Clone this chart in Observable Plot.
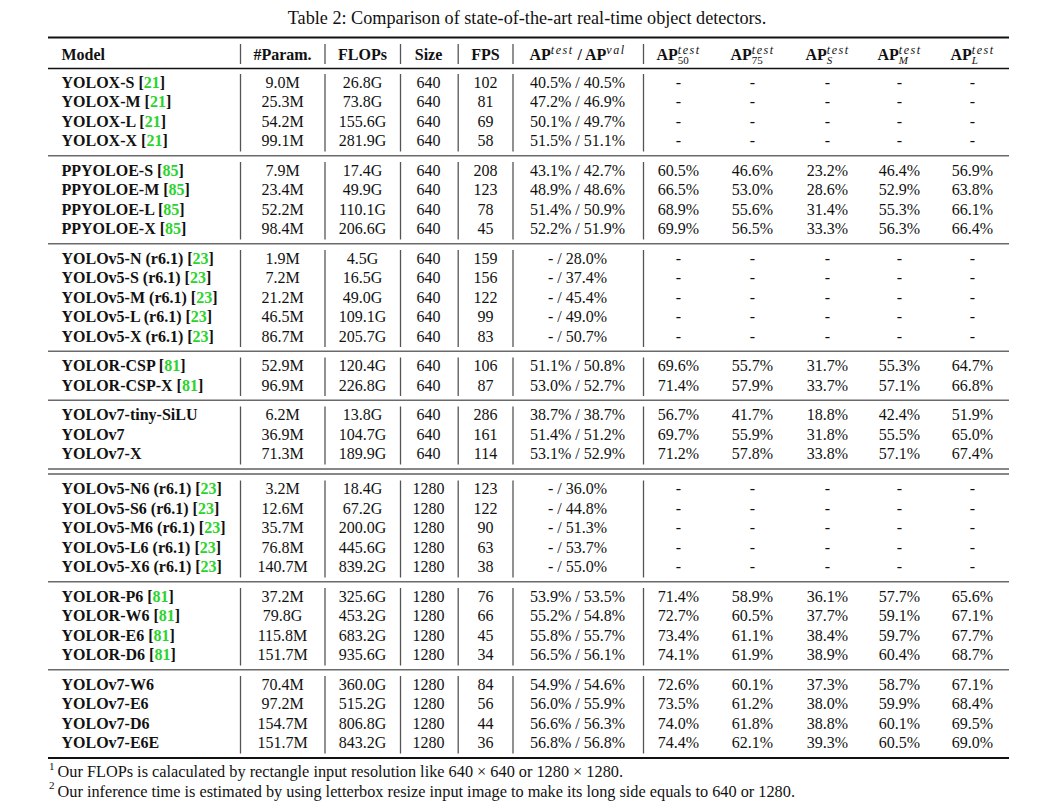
<!DOCTYPE html>
<html><head><meta charset="utf-8">
<script src="https://cdn.jsdelivr.net/npm/d3@7"></script>
<script src="https://cdn.jsdelivr.net/npm/@observablehq/plot@0.6"></script>
<style>
body{margin:0;background:#fff;font-family:"Liberation Serif","Times New Roman",serif;color:#111}
#title{height:30px;box-sizing:border-box;padding-top:7px;line-height:22px;font-size:18.2px;text-align:center;width:1054px;white-space:nowrap}
#chart svg{display:block}
#notes{font-size:16.3px;line-height:19.5px;padding-left:49px;white-space:nowrap}
#notes sup{font-size:11px;line-height:0;position:relative;top:-1px;margin-right:3px}
</style></head>
<body>
<div id="title">Table 2: Comparison of state-of-the-art real-time object detectors.</div>
<div id="chart"></div>
<div id="notes">
<div><sup>1</sup>Our FLOPs is calaculated by rectangle input resolution like 640 × 640 or 1280 × 1280.</div>
<div><sup>2</sup>Our inference time is estimated by using letterbox resize input image to make its long side equals to 640 or 1280.</div>
</div>
<script>
// ---------------- data ----------------
const headers = ["Model","#Param.","FLOPs","Size","FPS","AP^{test} / AP^{val}","AP^{test}_{50}","AP^{test}_{75}","AP^{test}_{S}","AP^{test}_{M}","AP^{test}_{L}"];
const models = ["YOLOX-S [21]","YOLOX-M [21]","YOLOX-L [21]","YOLOX-X [21]",
 "PPYOLOE-S [85]","PPYOLOE-M [85]","PPYOLOE-L [85]","PPYOLOE-X [85]",
 "YOLOv5-N (r6.1) [23]","YOLOv5-S (r6.1) [23]","YOLOv5-M (r6.1) [23]","YOLOv5-L (r6.1) [23]","YOLOv5-X (r6.1) [23]",
 "YOLOR-CSP [81]","YOLOR-CSP-X [81]",
 "YOLOv7-tiny-SiLU","YOLOv7","YOLOv7-X",
 "YOLOv5-N6 (r6.1) [23]","YOLOv5-S6 (r6.1) [23]","YOLOv5-M6 (r6.1) [23]","YOLOv5-L6 (r6.1) [23]","YOLOv5-X6 (r6.1) [23]",
 "YOLOR-P6 [81]","YOLOR-W6 [81]","YOLOR-E6 [81]","YOLOR-D6 [81]",
 "YOLOv7-W6","YOLOv7-E6","YOLOv7-D6","YOLOv7-E6E"];
const groups = [0,0,0,0,1,1,1,1,2,2,2,2,2,3,3,4,4,4,5,5,5,5,5,6,6,6,6,7,7,7,7];
const params = ["9.0M","25.3M","54.2M","99.1M","7.9M","23.4M","52.2M","98.4M","1.9M","7.2M","21.2M","46.5M","86.7M","52.9M","96.9M","6.2M","36.9M","71.3M","3.2M","12.6M","35.7M","76.8M","140.7M","37.2M","79.8G","115.8M","151.7M","70.4M","97.2M","154.7M","151.7M"];
const flops = ["26.8G","73.8G","155.6G","281.9G","17.4G","49.9G","110.1G","206.6G","4.5G","16.5G","49.0G","109.1G","205.7G","120.4G","226.8G","13.8G","104.7G","189.9G","18.4G","67.2G","200.0G","445.6G","839.2G","325.6G","453.2G","683.2G","935.6G","360.0G","515.2G","806.8G","843.2G"];
const sizes = [640,640,640,640,640,640,640,640,640,640,640,640,640,640,640,640,640,640,1280,1280,1280,1280,1280,1280,1280,1280,1280,1280,1280,1280,1280];
const fps = [102,81,69,58,208,123,78,45,159,156,122,99,83,106,87,286,161,114,123,122,90,63,38,76,66,45,34,84,56,44,36];
const apTestVal = ["40.5% / 40.5%","47.2% / 46.9%","50.1% / 49.7%","51.5% / 51.1%","43.1% / 42.7%","48.9% / 48.6%","51.4% / 50.9%","52.2% / 51.9%","- / 28.0%","- / 37.4%","- / 45.4%","- / 49.0%","- / 50.7%","51.1% / 50.8%","53.0% / 52.7%","38.7% / 38.7%","51.4% / 51.2%","53.1% / 52.9%","- / 36.0%","- / 44.8%","- / 51.3%","- / 53.7%","- / 55.0%","53.9% / 53.5%","55.2% / 54.8%","55.8% / 55.7%","56.5% / 56.1%","54.9% / 54.6%","56.0% / 55.9%","56.6% / 56.3%","56.8% / 56.8%"];
const ap50 = ["-","-","-","-","60.5%","66.5%","68.9%","69.9%","-","-","-","-","-","69.6%","71.4%","56.7%","69.7%","71.2%","-","-","-","-","-","71.4%","72.7%","73.4%","74.1%","72.6%","73.5%","74.0%","74.4%"];
const ap75 = ["-","-","-","-","46.6%","53.0%","55.6%","56.5%","-","-","-","-","-","55.7%","57.9%","41.7%","55.9%","57.8%","-","-","-","-","-","58.9%","60.5%","61.1%","61.9%","60.1%","61.2%","61.8%","62.1%"];
const apS = ["-","-","-","-","23.2%","28.6%","31.4%","33.3%","-","-","-","-","-","31.7%","33.7%","18.8%","31.8%","33.8%","-","-","-","-","-","36.1%","37.7%","38.4%","38.9%","37.3%","38.0%","38.8%","39.3%"];
const apM = ["-","-","-","-","46.4%","52.9%","55.3%","56.3%","-","-","-","-","-","55.3%","57.1%","42.4%","55.5%","57.1%","-","-","-","-","-","57.7%","59.1%","59.7%","60.4%","58.7%","59.9%","60.1%","60.5%"];
const apL = ["-","-","-","-","56.9%","63.8%","66.1%","66.4%","-","-","-","-","-","64.7%","66.8%","51.9%","65.0%","67.4%","-","-","-","-","-","65.6%","67.1%","67.7%","68.7%","67.1%","68.4%","69.5%","69.0%"];

// ---------------- layout ----------------
const FONT = "Liberation Serif";
const GREEN = "#2ad42a";
const columns = [params, flops, sizes, fps, apTestVal, ap50, ap75, apS, apM, apL];
const colCenters = [282, 362, 428, 485, 577, 678, 752, 827, 899, 972];
const modelX = 61;
const boundaries = [240, 324.5, 400, 457.7, 512.5, 643];
const tableX1 = 48, tableX2 = 1009;
const headerY = 54, topRuleY = 37, headRuleY = 68;
const firstRowY = 82, rowStep = 19.5, groupGap = 29.5, sectionGap = 35;

// row positions
const rowY = [];
models.forEach((m, i) => {
  if (i === 0) rowY.push(firstRowY);
  else if (groups[i] !== groups[i-1]) rowY.push(rowY[i-1] + (sizes[i] !== sizes[i-1] ? sectionGap : groupGap));
  else rowY.push(rowY[i-1] + rowStep);
});
const rows = models.map((m, i) => ({model: m, y: rowY[i]}));
const cells = [];
models.forEach((m, i) => columns.forEach((col, j) => cells.push({x: colCenters[j], y: rowY[i], text: String(col[i])})));
const modelHeader = [{x: modelX, y: headerY, text: headers[0]}];
const headerCells = headers.slice(1).map((h, j) => ({x: colCenters[j], y: headerY, text: h}));

// group extents
const gIds = [...new Set(groups)];
const gExt = gIds.map(g => {
  const ys = rowY.filter((y, i) => groups[i] === g);
  return {g, y1: ys[0], y2: ys[ys.length-1]};
});
const vlines = [];
boundaries.forEach(x => vlines.push({x, y1: 44, y2: 64}));
gExt.forEach(e => boundaries.forEach(x => vlines.push({x, y1: e.y1 - 8, y2: e.y2 + 11})));

// horizontal rules
const grayRules = [], thinBlackRules = [];
for (let i = 1; i < gExt.length; i++) {
  const mid = (gExt[i-1].y2 + gExt[i].y1) / 2;
  const si = rowY.indexOf(gExt[i].y1);
  if (sizes[si] !== sizes[si-1]) { thinBlackRules.push({y: mid - 2.5}); thinBlackRules.push({y: mid + 2.5}); }
  else grayRules.push({y: mid});
}
const lastY = rowY[rowY.length-1];
const thickRules = [{y: topRuleY}, {y: lastY + 15}];
const headRules = [{y: headRuleY}];

const plot = Plot.plot({
  width: 1050, height: 732, margin: 0,
  x: {domain: [0, 1050], range: [0, 1050], axis: null},
  y: {domain: [30, 762], range: [0, 732], axis: null},
  style: {fontFamily: FONT, background: "#fff", color: "#111"},
  marks: [
    Plot.ruleY(thickRules, {y: "y", x1: tableX1, x2: tableX2, stroke: "#111", strokeWidth: 2}),
    Plot.ruleY(headRules, {y: "y", x1: tableX1, x2: tableX2, stroke: "#111", strokeWidth: 1.3}),
    Plot.ruleY(grayRules, {y: "y", x1: tableX1, x2: tableX2, stroke: "#6a6a6a", strokeWidth: 1.5}),
    Plot.ruleY(thinBlackRules, {y: "y", x1: tableX1, x2: tableX2, stroke: "#111", strokeWidth: 1}),
    Plot.ruleX(vlines, {x: "x", y1: "y1", y2: "y2", stroke: "#555", strokeWidth: 1.3}),
    Plot.text(modelHeader, {x: "x", y: "y", text: "text", textAnchor: "start", fontWeight: "bold", fontSize: 16, fontFamily: FONT, fill: "#111"}),
    Plot.text(headerCells, {x: "x", y: "y", text: "text", fontWeight: "bold", fontSize: 16, fontFamily: FONT, fill: "#111"}),
    Plot.text(rows, {x: modelX, y: "y", text: "model", textAnchor: "start", fontWeight: "bold", fontSize: 16, fontFamily: FONT, fill: "#111"}),
    Plot.text(cells, {x: "x", y: "y", text: "text", fontSize: 16, fontFamily: FONT, fill: "#111"})
  ]
});
document.getElementById("chart").appendChild(plot);

// rich text: superscripts, subscripts, green citation numbers
const NS = "http://www.w3.org/2000/svg";
plot.querySelectorAll("text").forEach(t => {
  const s = t.textContent;
  if (!/[\^_\[]/.test(s)) return;
  t.textContent = "";
  const add = (str, attrs) => {
    const ts = document.createElementNS(NS, "tspan");
    for (const k in attrs) ts.setAttribute(k, attrs[k]);
    ts.textContent = str; t.appendChild(ts); return ts;
  };
  const re = /\^\{([^}]*)\}|_\{([^}]*)\}|\[(\d+)\]/g;
  let last = 0, m, shift = 0, lastSup = null;
  while ((m = re.exec(s))) {
    if (m.index > last) { add(s.slice(last, m.index), shift ? {dy: -shift} : {}); shift = 0; lastSup = null; }
    if (m[1] !== undefined) {
      lastSup = add(m[1], {dy: -6 - shift, "font-size": 12, "font-style": "italic", "font-weight": "normal", style: "letter-spacing:1.5px"});
      shift = -6;
    } else if (m[2] !== undefined) {
      const w = lastSup ? lastSup.getComputedTextLength() : 0;
      add(m[2], {dx: -w, dy: 4 - shift, "font-size": 11, "font-style": /\d/.test(m[2]) ? "normal" : "italic", "font-weight": "normal"});
      shift = 4; lastSup = null;
    } else {
      add("[", shift ? {dy: -shift} : {}); shift = 0;
      add(m[3], {fill: GREEN});
      add("]", {});
    }
    last = re.lastIndex;
  }
  if (last < s.length) add(s.slice(last), shift ? {dy: -shift} : {});
});
</script>
</body></html>
